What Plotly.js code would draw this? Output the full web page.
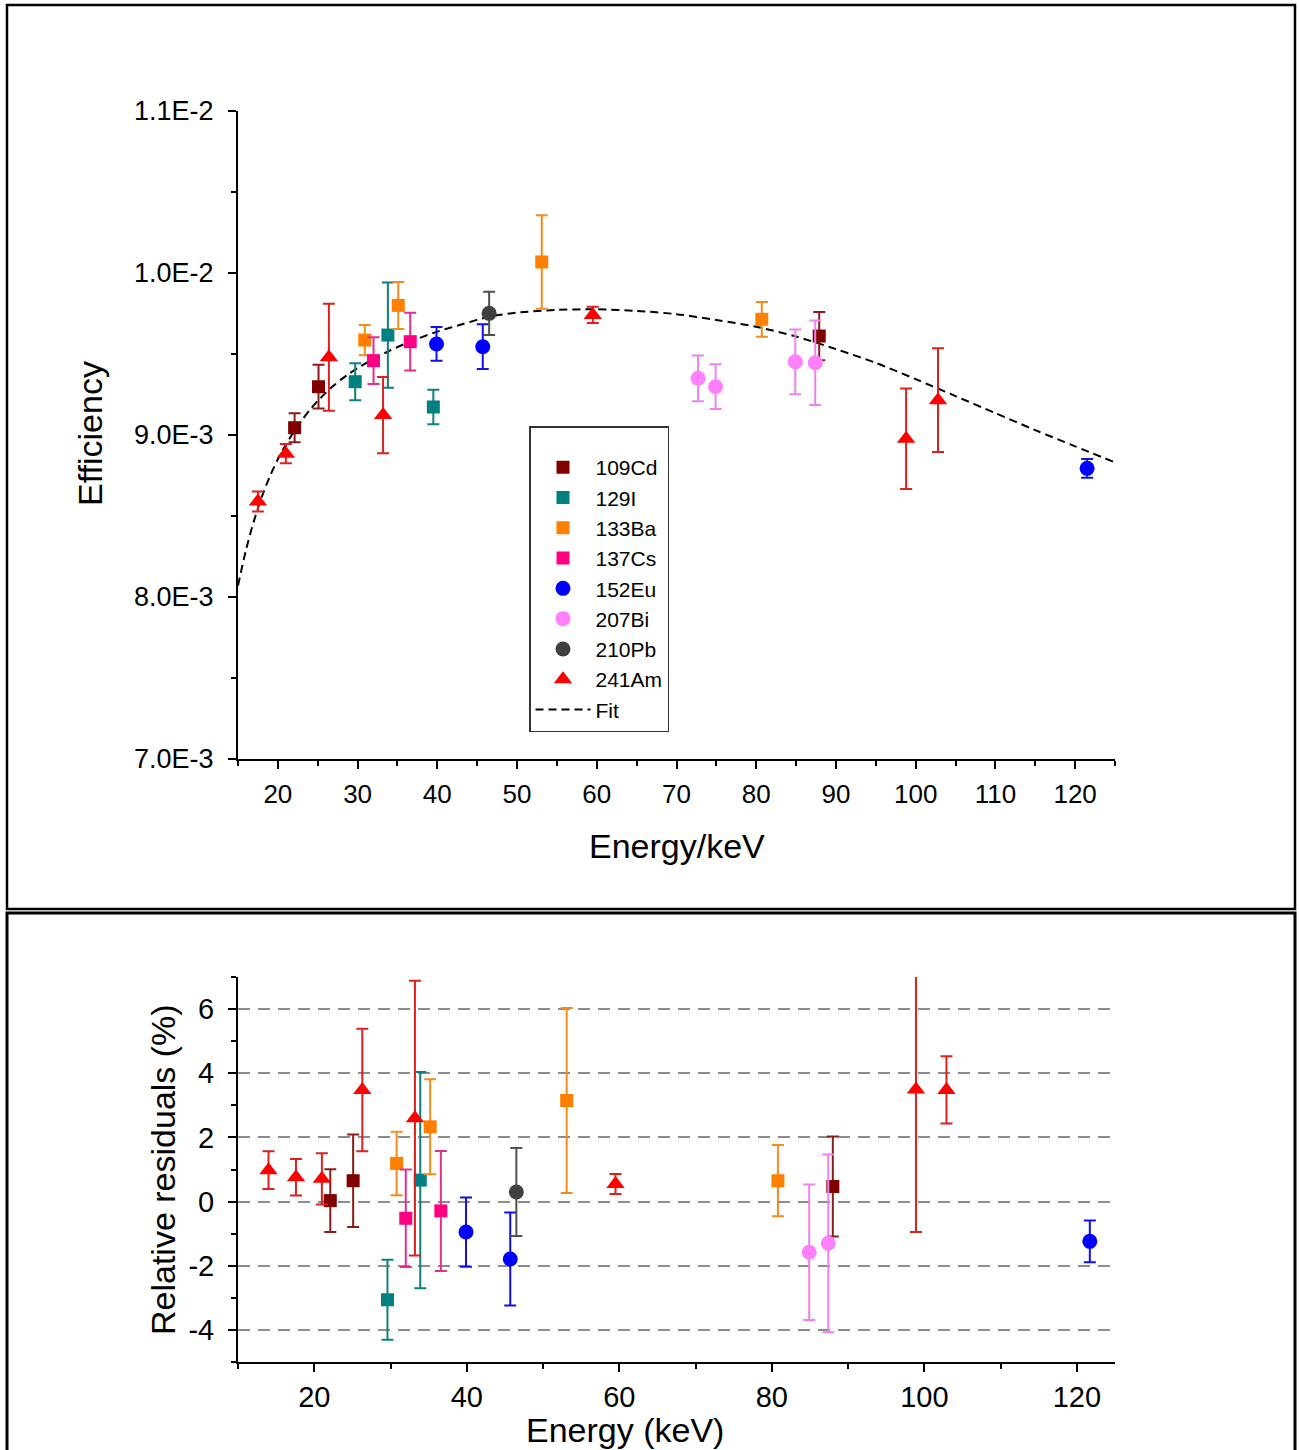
<!DOCTYPE html>
<html>
<head>
<meta charset="utf-8">
<script src="https://cdn.plot.ly/plotly-3.0.1.min.js"></script>
<style>
  html, body { margin: 0; padding: 0; background: #ffffff; }
  #chart { width: 1299px; height: 1450px; }
</style>
</head>
<body>
<div id="chart"></div>
<script>
// ---------------- DATA ----------------
const isotopes = ['109Cd', '129I', '133Ba', '137Cs', '152Eu', '207Bi', '210Pb', '241Am'];

// Top panel: efficiency vs energy (keV)
const cd109E = [22.1, 25.1, 87.9];
const cd109Eff = [9.045e-3, 9.298e-3, 9.611e-3];
const cd109EffErr = [0.09e-3, 0.135e-3, 0.149e-3];

const i129E = [29.7, 33.8, 39.5];
const i129Eff = [9.329e-3, 9.617e-3, 9.173e-3];
const i129EffErr = [0.114e-3, 0.325e-3, 0.107e-3];

const ba133E = [30.9, 35.1, 53.1, 80.7];
const ba133Eff = [9.586e-3, 9.80e-3, 1.0068e-2, 9.714e-3];
const ba133EffErr = [0.093e-3, 0.145e-3, 0.288e-3, 0.107e-3];

const cs137E = [32.0, 36.6];
const cs137Eff = [9.459e-3, 9.576e-3];
const cs137EffErr = [0.144e-3, 0.178e-3];

const eu152E = [39.9, 45.7, 121.5];
const eu152Eff = [9.562e-3, 9.545e-3, 8.794e-3];
const eu152EffErr = [0.104e-3, 0.138e-3, 0.058e-3];

const bi207E = [72.7, 74.9, 84.9, 87.4];
const bi207Eff = [9.35e-3, 9.298e-3, 9.452e-3, 9.446e-3];
const bi207EffErr = [0.141e-3, 0.138e-3, 0.2e-3, 0.261e-3];

const pb210E = [46.5];
const pb210Eff = [9.751e-3];
const pb210EffErr = [0.134e-3];

const am241E = [17.5, 21.0, 26.4, 33.2, 59.5, 98.8, 102.8];
const am241Eff = [8.59e-3, 8.885e-3, 9.48e-3, 9.123e-3, 9.741e-3, 8.977e-3, 9.215e-3];
const am241EffErr = [0.062e-3, 0.06e-3, 0.33e-3, 0.235e-3, 0.05e-3, 0.31e-3, 0.32e-3];

// Fit curve
const fitE = [15, 16, 17, 18, 19, 20, 21, 22, 23, 24, 25, 26, 27, 28, 29, 30, 32, 34, 36.6, 40, 43, 46.5, 50, 55, 60, 65, 70, 75, 80, 85, 90, 95, 100, 105, 110, 115, 120, 124.8];
const fitEff = [8.07e-3, 8.29e-3, 8.47e-3, 8.62e-3, 8.745e-3, 8.85e-3, 8.94e-3, 9.02e-3, 9.09e-3, 9.155e-3, 9.21e-3, 9.26e-3, 9.305e-3, 9.345e-3, 9.38e-3, 9.413e-3, 9.47e-3, 9.52e-3, 9.577e-3, 9.638e-3, 9.682e-3, 9.73e-3, 9.755e-3, 9.772e-3, 9.776e-3, 9.766e-3, 9.746e-3, 9.71e-3, 9.668e-3, 9.608e-3, 9.53e-3, 9.445e-3, 9.345e-3, 9.24e-3, 9.135e-3, 9.03e-3, 8.93e-3, 8.835e-3];

// Bottom panel: relative residuals (%)
const cd109ResE = [22.1, 25.1, 88.0];
const cd109Res = [0.03, 0.65, 0.47];
const cd109ResErr = [0.98, 1.44, 1.56];

const i129ResE = [29.6, 33.9];
const i129Res = [-3.06, 0.67];
const i129ResErr = [1.25, 3.37];

const ba133ResE = [30.8, 35.2, 53.1, 80.8];
const ba133Res = [1.19, 2.33, 3.15, 0.65];
const ba133ResErr = [0.99, 1.48, 2.88, 1.11];

const cs137ResE = [32.0, 36.6];
const cs137Res = [-0.52, -0.29];
const cs137ResErr = [1.52, 1.87];

const eu152ResE = [39.9, 45.7, 121.7];
const eu152Res = [-0.95, -1.79, -1.24];
const eu152ResErr = [1.08, 1.45, 0.65];

const bi207ResE = [84.9, 87.4];
const bi207Res = [-1.58, -1.3];
const bi207ResErr = [2.11, 2.77];

const pb210ResE = [46.5];
const pb210Res = [0.3];
const pb210ResErr = [1.37];

const am241ResE = [14.0, 17.6, 21.0, 26.3, 33.2, 59.5, 98.9, 102.9];
const am241Res = [0.98, 0.76, 0.71, 3.48, 2.6, 0.55, 3.49, 3.48];
const am241ResErr = [0.59, 0.57, 0.8, 1.91, 4.28, 0.31, 4.44, 1.05];

// Tick labels
const effTickVals = [0.007, 0.008, 0.009, 0.010, 0.011];
const effTickText = ['7.0E-3', '8.0E-3', '9.0E-3', '1.0E-2', '1.1E-2'];
const resTickVals = [-4, -2, 0, 2, 4, 6];
const resTickText = ['-4', '-2', '0', '2', '4', '6'];

// ---------------- STYLE ----------------
const FONT = 'Liberation Sans, Arial, Helvetica, sans-serif';
const style = {
  '109Cd': { color: '#800000', err: '#8b1c1c', symbol: 'square', size: 13 },
  '129I':  { color: '#008080', err: '#0f7f7f', symbol: 'square', size: 13 },
  '133Ba': { color: '#ff8000', err: '#f28c1e', symbol: 'square', size: 13 },
  '137Cs': { color: '#ff0080', err: '#e0308c', symbol: 'square', size: 13 },
  '152Eu': { color: '#0000ff', err: '#1010ee', symbol: 'circle', size: 15 },
  '207Bi': { color: '#ff80ff', err: '#ee82ee', symbol: 'circle', size: 15 },
  '210Pb': { color: '#404040', err: '#505050', symbol: 'circle', size: 15 },
  '241Am': { color: '#ff0000', err: '#dd1f1f', symbol: 'triangle-up', size: 16 }
};

const topSets = {
  '109Cd': [cd109E, cd109Eff, cd109EffErr],
  '129I':  [i129E, i129Eff, i129EffErr],
  '133Ba': [ba133E, ba133Eff, ba133EffErr],
  '137Cs': [cs137E, cs137Eff, cs137EffErr],
  '152Eu': [eu152E, eu152Eff, eu152EffErr],
  '207Bi': [bi207E, bi207Eff, bi207EffErr],
  '210Pb': [pb210E, pb210Eff, pb210EffErr],
  '241Am': [am241E, am241Eff, am241EffErr]
};
const botSets = {
  '109Cd': [cd109ResE, cd109Res, cd109ResErr],
  '129I':  [i129ResE, i129Res, i129ResErr],
  '133Ba': [ba133ResE, ba133Res, ba133ResErr],
  '137Cs': [cs137ResE, cs137Res, cs137ResErr],
  '152Eu': [eu152ResE, eu152Res, eu152ResErr],
  '207Bi': [bi207ResE, bi207Res, bi207ResErr],
  '210Pb': [pb210ResE, pb210Res, pb210ResErr],
  '241Am': [am241ResE, am241Res, am241ResErr]
};

const traces = [];
// Fit line (drawn first, listed last in legend)
traces.push({
  x: fitE, y: fitEff, name: 'Fit', type: 'scatter', mode: 'lines',
  line: { color: '#000000', width: 2, dash: '8px,5px', shape: 'spline', smoothing: 0.8 },
  xaxis: 'x', yaxis: 'y', legendrank: 2000, hoverinfo: 'skip'
});

isotopes.forEach(function (iso, k) {
  const s = style[iso];
  const t = topSets[iso];
  traces.push({
    x: t[0], y: t[1], name: iso, type: 'scatter', mode: 'markers',
    marker: { color: s.color, symbol: s.symbol, size: s.size },
    error_y: { type: 'data', array: t[2], visible: true, color: s.err, thickness: 2, width: 6 },
    xaxis: 'x', yaxis: 'y', legendrank: 100 + k
  });
});
isotopes.forEach(function (iso) {
  const s = style[iso];
  const b = botSets[iso];
  traces.push({
    x: b[0], y: b[1], name: iso, type: 'scatter', mode: 'markers',
    marker: { color: s.color, symbol: s.symbol, size: s.size },
    error_y: { type: 'data', array: b[2], visible: true, color: s.err, thickness: 2, width: 6 },
    xaxis: 'x2', yaxis: 'y2', showlegend: false
  });
});

// ---------------- LAYOUT ----------------
const W = 1299, H = 1450;
const px = function (v) { return v / W; };
const py = function (v) { return 1 - v / H; };

const axisCommon = {
  showline: true, linecolor: '#000000', linewidth: 2,
  ticks: 'outside', ticklen: 8, tickwidth: 2, tickcolor: '#000000',
  showgrid: false, zeroline: false, mirror: false
};

const layout = {
  width: W, height: H,
  margin: { l: 0, r: 0, t: 0, b: 0 },
  paper_bgcolor: '#ffffff', plot_bgcolor: '#ffffff',
  font: { family: FONT, color: '#000000' },
  showlegend: true,
  legend: {
    x: px(529), y: py(426), xanchor: 'left', yanchor: 'top',
    bgcolor: '#ffffff', bordercolor: '#333333', borderwidth: 1.5,
    font: { family: FONT, size: 21, color: '#000000' },
    itemwidth: 55, traceorder: 'normal',
    title: { text: ' ', font: { size: 15 } }
  },
  xaxis: Object.assign({}, axisCommon, {
    domain: [px(238), px(1115)], range: [15, 125],
    tickmode: 'linear', tick0: 0, dtick: 10,
    tickfont: { family: FONT, size: 26 }, ticklabelstandoff: 3,
    minor: { ticks: 'outside', ticklen: 5, tickwidth: 2, tickcolor: '#000000', dtick: 5, tick0: 0 },
    anchor: 'y'
  }),
  yaxis: Object.assign({}, axisCommon, {
    domain: [py(759), py(111)], range: [0.007, 0.011],
    tickmode: 'array', tickvals: effTickVals, ticktext: effTickText,
    tickfont: { family: FONT, size: 27 }, ticklabelstandoff: 9,
    minor: { ticks: 'outside', ticklen: 5, tickwidth: 2, tickcolor: '#000000', tickmode: 'linear', tick0: 0.0075, dtick: 0.001 },
    anchor: 'x'
  }),
  xaxis2: Object.assign({}, axisCommon, {
    domain: [px(238), px(1115)], range: [10, 125],
    tickmode: 'linear', tick0: 0, dtick: 20,
    tickfont: { family: FONT, size: 29 }, ticklabelstandoff: 0,
    minor: { ticks: 'outside', ticklen: 5, tickwidth: 2, tickcolor: '#000000', dtick: 10, tick0: 0 },
    anchor: 'y2'
  }),
  yaxis2: Object.assign({}, axisCommon, {
    domain: [py(1362), py(977)], range: [-5, 7],
    tickmode: 'array', tickvals: resTickVals, ticktext: resTickText,
    tickfont: { family: FONT, size: 29 }, ticklabelstandoff: 8,
    showgrid: true, gridcolor: '#8c8c8c', gridwidth: 2, griddash: '12px,8px',
    minor: { ticks: 'outside', ticklen: 5, tickwidth: 2, tickcolor: '#000000', tickmode: 'linear', tick0: 1, dtick: 2, showgrid: false },
    anchor: 'x2'
  }),
  shapes: [
    { type: 'rect', xref: 'paper', yref: 'paper', x0: px(7), x1: px(1295), y0: py(909), y1: py(5),
      line: { color: '#000000', width: 2.5 }, fillcolor: 'rgba(0,0,0,0)', layer: 'below' },
    { type: 'rect', xref: 'paper', yref: 'paper', x0: px(7), x1: px(1295), y0: py(1470), y1: py(913),
      line: { color: '#000000', width: 3 }, fillcolor: 'rgba(0,0,0,0)', layer: 'below' }
  ],
  annotations: [
    { text: 'Efficiency', xref: 'paper', yref: 'paper', x: px(90), y: py(434), textangle: -90,
      showarrow: false, xanchor: 'center', yanchor: 'middle', font: { family: FONT, size: 34, color: '#000000' } },
    { text: 'Energy/keV', xref: 'paper', yref: 'paper', x: px(677), y: py(846),
      showarrow: false, xanchor: 'center', yanchor: 'middle', font: { family: FONT, size: 34, color: '#000000' } },
    { text: 'Relative residuals (%)', xref: 'paper', yref: 'paper', x: px(163), y: py(1170), textangle: -90,
      showarrow: false, xanchor: 'center', yanchor: 'middle', font: { family: FONT, size: 34, color: '#000000' } },
    { text: 'Energy (keV)', xref: 'paper', yref: 'paper', x: px(625), y: py(1430),
      showarrow: false, xanchor: 'center', yanchor: 'middle', font: { family: FONT, size: 34, color: '#000000' } }
  ]
};

Plotly.newPlot('chart', traces, layout, { displayModeBar: false, staticPlot: true });
</script>
</body>
</html>
